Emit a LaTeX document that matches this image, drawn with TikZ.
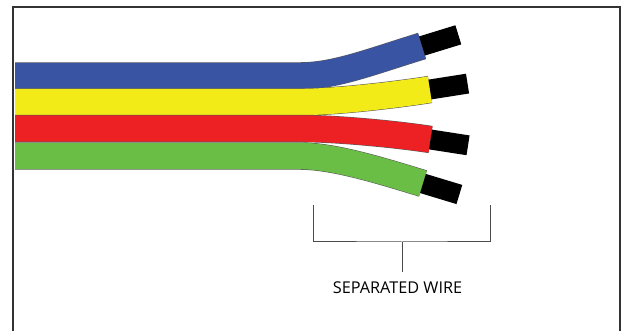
\documentclass[tikz,border=0pt]{standalone}
\usepackage{fontspec}
\setmainfont{Open Sans}
\usetikzlibrary{calc}
\definecolor{wblue}{RGB}{58,84,164}
\definecolor{wyellow}{RGB}{242,235,23}
\definecolor{wred}{RGB}{237,32,36}
\definecolor{wgreen}{RGB}{106,189,69}
\begin{document}
\begin{tikzpicture}[x=0.75pt,y=-0.75pt,
	frame/.style={draw=black!80,line width=0.9pt},
	wireedge/.style={draw=black!65,line width=20.6pt},
	wire/.style={line width=19.8pt},
	wiretip/.style={draw=black,line width=15pt},
	bracket/.style={draw=black!70,line width=0.75pt}]
		\useasboundingbox (0,0) rectangle (621,331);
		\draw[frame] (13,331) -- (13,7) -- (620,7) -- (620,331);

		\foreach \c/\y/\cx/\cy/\ex/\ey in {wblue/76/370/62/422/46,wyellow/102/395/95/430/89.5,wred/128.5/395/134/430.5/139.5,wgreen/156/385/172/423/183.5}
		{
			\draw[wireedge] (15,\y) -- (300,\y) .. controls (335,\y) and (\cx,\cy) .. (\ex,\ey);
			\draw[wire,draw=\c] (15,\y) -- (300,\y) .. controls (335,\y) and (\cx,\cy) .. (\ex,\ey);
			\draw[wiretip] (\ex,\ey) -- ($(\ex,\ey)!-28.5pt!(\cx,\cy)$);
		}

		\coordinate (bl) at (313,205);
		\coordinate (br) at (490,205);
		\coordinate (bm) at (402,242);
		\node[anchor=base,inner sep=7.5pt,font=\fontsize{12.2}{14}\selectfont] (sep) at (397.5,294) {SEPARATED WIRE};
		\draw[bracket] (bl) |- (bm) -| (br);
		\draw[bracket] (bm) -- (bm |- sep.north);
	\end{tikzpicture}
\end{document}
